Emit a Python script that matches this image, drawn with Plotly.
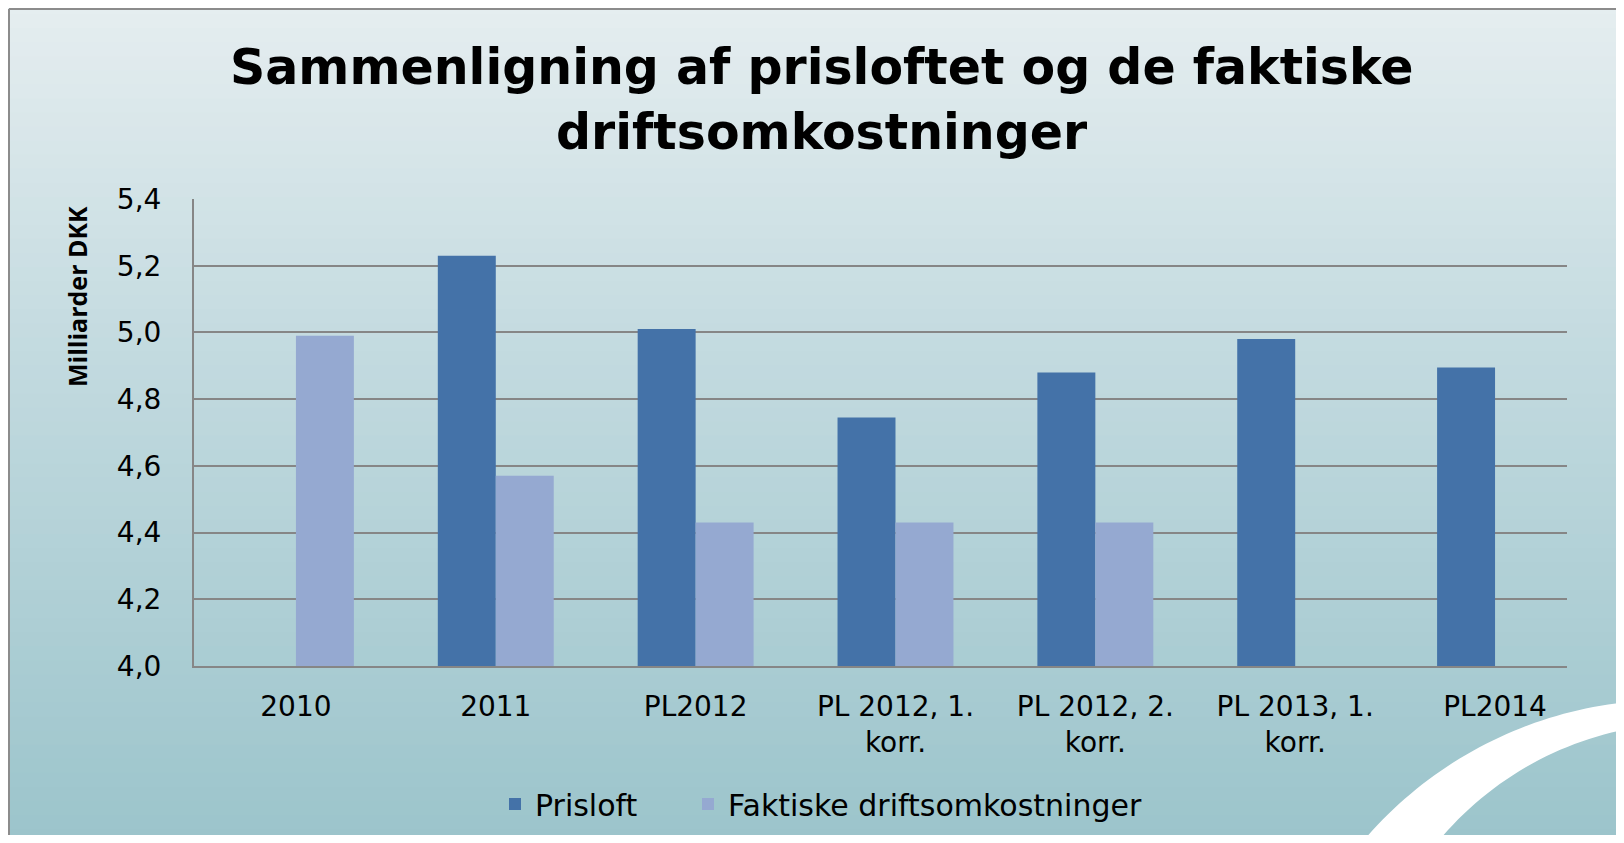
import numpy as np
import plotly.graph_objects as go

categories = ["2010", "2011", "PL2012", "PL 2012, 1.<br>korr.", "PL 2012, 2.<br>korr.",
              "PL 2013, 1.<br>korr.", "PL2014"]
prisloft = [None, 5.23, 5.01, 4.745, 4.88, 4.98, 4.895]
faktiske = [4.99, 4.57, 4.43, 4.43, 4.43, None, None]
y_ticks = [4.0, 4.2, 4.4, 4.6, 4.8, 5.0, 5.2, 5.4]

# page body has an 8px margin, figure sized to fit the 1624x843 window
OFF = 8
FIG_W, FIG_H = 1624 - 2 * OFF, 843 - 2 * OFF
L, R, T, B = 186, 49, 191, 169
PW = FIG_W - L - R
PH = FIG_H - T - B


def px(x):
    # x given in window pixels
    return (x - OFF - L) / PW


def py(y):
    return (FIG_H - B - (y - OFF)) / PH


fig = go.Figure()
fig.add_trace(go.Bar(name="Prisloft", x=categories, y=prisloft, legend="legend",
                     marker=dict(color="#4472A8", line=dict(width=0))))
fig.add_trace(go.Bar(name="Faktiske driftsomkostninger", x=categories, y=faktiske,
                     legend="legend2",
                     marker=dict(color="#95A9D1", line=dict(width=0))))

shapes = []
# gradient background
top_c = np.array([0xE6, 0xEE, 0xF0])
mid_c = np.array([0xC4, 0xDB, 0xE0])
bot_c = np.array([0x9B, 0xC4, 0xCB])
n = 60
for i in range(n):
    y0 = 843 * i / n
    y1 = 843 * (i + 1) / n + 1
    t = (i + 0.5) / n
    if t < 0.4:
        c = top_c + (mid_c - top_c) * (t / 0.4)
    else:
        c = mid_c + (bot_c - mid_c) * ((t - 0.4) / 0.6)
    col = "rgb(%d,%d,%d)" % tuple(int(round(v)) for v in c)
    shapes.append(dict(type="rect", xref="paper", yref="paper", layer="below",
                       x0=px(0), x1=px(1624), y0=py(y1), y1=py(y0),
                       fillcolor=col, line=dict(width=0)))

# frame border
shapes.append(dict(type="line", xref="paper", yref="paper", layer="below",
                   x0=px(9), x1=px(9), y0=py(9), y1=py(843),
                   line=dict(color="#8c8c8c", width=2)))
shapes.append(dict(type="line", xref="paper", yref="paper", layer="below",
                   x0=px(9), x1=px(1624), y0=py(9), y1=py(9),
                   line=dict(color="#8c8c8c", width=2)))

# decorative white arc (crescent) bottom-right
oc, orad = (1668, 1100), 400
ic, irad = (1690, 1050), 327
pts_out = []
for a in np.linspace(np.deg2rad(180 + 38), np.deg2rad(270 + 12), 60):
    pts_out.append((oc[0] + orad * np.cos(a), oc[1] + orad * np.sin(a)))
pts_in = []
for a in np.linspace(np.deg2rad(270 + 20), np.deg2rad(180 + 30), 60):
    pts_in.append((ic[0] + irad * np.cos(a), ic[1] + irad * np.sin(a)))
pts = pts_out + pts_in
path = "M " + " L ".join("%.5f,%.5f" % (px(x), py(y)) for x, y in pts) + " Z"
shapes.append(dict(type="path", xref="paper", yref="paper", layer="below",
                   path=path, fillcolor="white", line=dict(width=0)))

TITLE_FONT = dict(family="DejaVu Sans", size=49, color="black")
annotations = [
    dict(text="<b>Sammenligning af prisloftet og de faktiske</b>",
         xref="paper", yref="paper", x=px(822), y=py(67), xanchor="center", yanchor="middle",
         showarrow=False, font=TITLE_FONT),
    dict(text="<b>driftsomkostninger</b>",
         xref="paper", yref="paper", x=px(822), y=py(132), xanchor="center", yanchor="middle",
         showarrow=False, font=TITLE_FONT),
    dict(text="<b>Milliarder DKK</b>", xref="paper", yref="paper",
         x=px(77), y=py(297), xanchor="center", yanchor="middle", textangle=-90,
         showarrow=False, font=dict(family="Open Sans", size=25, color="black")),
]

TICK_FONT = dict(family="DejaVu Sans", size=28, color="black")
LEG_FONT = dict(size=30, family="DejaVu Sans", color="black")
fig.update_layout(
    width=FIG_W, height=FIG_H,
    margin=dict(l=L, r=R, t=T, b=B, autoexpand=False),
    paper_bgcolor="#c5dbe0",
    plot_bgcolor="rgba(0,0,0,0)",
    barmode="group", bargap=0.42, bargroupgap=0,
    separators=", ",
    font=dict(family="DejaVu Sans", size=28, color="black"),
    showlegend=True,
    legend=dict(orientation="h", x=px(495), y=py(804), xanchor="left", yanchor="middle",
                font=LEG_FONT, bgcolor="rgba(0,0,0,0)", itemwidth=30),
    legend2=dict(orientation="h", x=px(688), y=py(804), xanchor="left", yanchor="middle",
                 font=LEG_FONT, bgcolor="rgba(0,0,0,0)", itemwidth=30),
    shapes=shapes,
    annotations=annotations,
    xaxis=dict(range=[-0.51, 6.36], showgrid=False, showline=True,
               linecolor="#868686", linewidth=2,
               ticks="outside", ticklen=14, tickcolor="rgba(0,0,0,0)",
               tickfont=TICK_FONT),
    yaxis=dict(range=[4.0, 5.4], tickvals=y_ticks, tickformat=".1f",
               showgrid=True, gridcolor="#868686", gridwidth=2,
               showline=True, linecolor="#868686", linewidth=2,
               zeroline=False, ticks="", ticklabelstandoff=25,
               tickfont=TICK_FONT),
)

fig.write_html("out.html")
